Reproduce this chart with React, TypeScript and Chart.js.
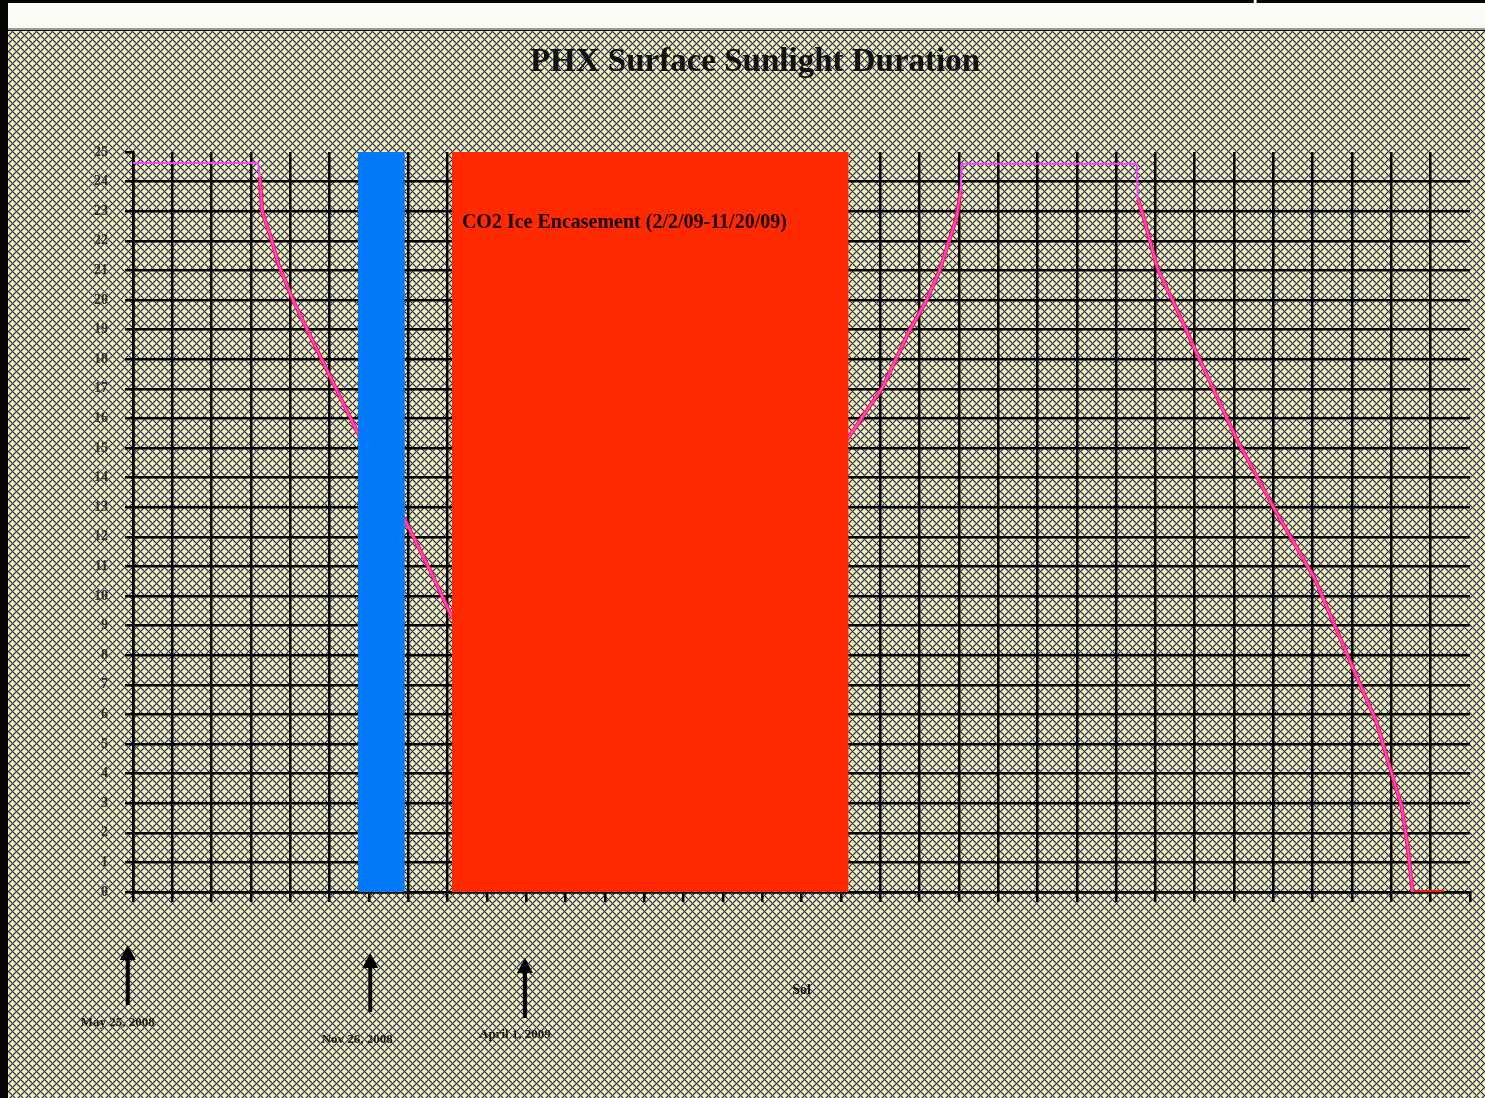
import { useEffect, useRef } from 'react';
import { Chart, registerables } from 'chart.js';

Chart.register(...registerables);

// ---- data ----
const chartTitle = 'PHX Surface Sunlight Duration';
const xAxisTitle = 'Sol';
const topCaption = 'The sun low on the polar horizon';

const solMin = 0;
const solMax = 1020;
const solStep = 30;
const hourMin = 0;
const hourMax = 25;
const hourStep = 1;

// Sunlight duration (hours) vs sol — magenta trace
const sunSol = [0, 95.3, 96.8, 98.4, 100.7, 106, 110.6, 122, 144.2, 171.6, 207.4, 226.5, 243.3,
  545, 572, 592.6, 605.5, 615.4, 628.4, 631.4, 632.2, 765.7, 766.6, 770.3, 781.7, 796.2, 811.5,
  842, 872.5, 901.4, 930.4, 948.7, 960.9, 967.8, 972.4, 976.2];
const sunHours = [24.63, 24.63, 24.16, 23.04, 22.7, 22.0, 21.25, 20.0, 17.97, 15.5, 12.57, 10.88, 9.29,
  15.3, 17.06, 18.99, 20.0, 21.0, 22.8, 23.7, 24.6, 24.6, 23.4, 22.9, 21.05, 19.7, 18.2,
  15.3, 12.8, 10.6, 7.6, 5.74, 3.9, 2.9, 1.55, 0];

// Red trace (declining / rising parts and polar night)
const redSol = [96.8, 98.4, 100.7, 106, 110.6, 122, 144.2, 171.6, 207.4, 226.5, 243.3,
  545, 572, 592.6, 605.5, 615.4, 628.4, 631.4, 700, 766.6, 770.3, 781.7, 796.2, 811.5,
  842, 872.5, 901.4, 930.4, 948.7, 960.9, 967.8, 972.4, 976.2, 1000.5];
const redHours: (number | null)[] = [24.16, 23.04, 22.7, 22.0, 21.25, 20.0, 17.97, 15.5, 12.57, 10.88, 9.29,
  15.3, 17.06, 18.99, 20.0, 21.0, 22.8, 23.7, null, 23.4, 22.9, 21.05, 19.7, 18.2,
  15.3, 12.8, 10.6, 7.6, 5.74, 3.9, 2.9, 1.55, 0, 0];

// shaded periods [start sol, end sol]
const contactLossBar = [171.6, 207.4];
const iceBar = [243.3, 546];
const barTop = 25;
const iceLabel = 'CO2 Ice Encasement (2/2/09-11/20/09)';

// date markers
const markerSols = [-4, 181, 299];
const markerLabels = ['May 25, 2008', 'Nov 26, 2008', 'April 1, 2009'];

// ---- layout of markers (canvas px) ----
const markerLayout = [
  { tip: 914, bottom: 974, labelY: 992, dx: -10 },
  { tip: 922, bottom: 981, labelY: 1009, dx: -13 },
  { tip: 927, bottom: 987, labelY: 1004, dx: -10 },
];

function makePattern(ctx: CanvasRenderingContext2D): CanvasPattern | string {
  const N = 8;
  const t = document.createElement('canvas');
  t.width = N;
  t.height = N;
  const c = t.getContext('2d');
  if (!c) return '#94948a';
  const img = c.createImageData(N, N);
  const centers = [[0, 0], [N, 0], [0, N], [N, N], [N / 2, N / 2]];
  for (let y = 0; y < N; y++) {
    for (let x = 0; x < N; x++) {
      let plus = false;
      for (const [cx, cy] of centers) {
        const dx = Math.abs(x - cx);
        const dy = Math.abs(y - cy);
        if ((dx === 0 && dy <= 2) || (dx <= 2 && dy === 0) || (dx === 1 && dy === 1)) plus = true;
      }
      let col: number[];
      if (plus) col = [246, 242, 168];
      else if ((x + y) % 2 === 0) col = [30, 38, 112];
      else col = [172, 172, 150];
      const i = (y * N + x) * 4;
      img.data[i] = col[0];
      img.data[i + 1] = col[1];
      img.data[i + 2] = col[2];
      img.data[i + 3] = 255;
    }
  }
  c.putImageData(img, 0, 0);
  return ctx.createPattern(t, 'repeat') || '#94948a';
}

export default function App() {
  const ref = useRef<HTMLCanvasElement>(null);

  useEffect(() => {
    document.body.style.margin = '0';
    const canvas = ref.current;
    if (!canvas) return;
    const ctx0 = canvas.getContext('2d')!;
    const pattern = makePattern(ctx0);

    const bgPlugin = {
      id: 'bgPattern',
      beforeDraw(chart: any) {
        const ctx = chart.ctx;
        ctx.save();
        ctx.fillStyle = pattern;
        ctx.fillRect(0, 0, chart.width, chart.height);
        ctx.restore();
      },
    };

    const notesPlugin = {
      id: 'notes',
      afterDraw(chart: any) {
        const ctx = chart.ctx as CanvasRenderingContext2D;
        const xs = chart.scales.x;
        const ys = chart.scales.y;
        const area = chart.chartArea;
        ctx.save();
        // title
        ctx.fillStyle = '#111';
        ctx.textAlign = 'center';
        ctx.textBaseline = 'middle';
        ctx.font = 'bold 33px "Liberation Serif", serif';
        ctx.fillText(chartTitle, 747, 31);
        // ice label
        ctx.textAlign = 'left';
        ctx.font = 'bold 20px "Liberation Serif", serif';
        ctx.fillStyle = '#1a0000';
        ctx.fillText(iceLabel, xs.getPixelForValue(iceBar[0]) + 10, ys.getPixelForValue(22.6));
        // x axis title
        ctx.fillStyle = '#111';
        ctx.textAlign = 'center';
        ctx.font = 'bold 14px "Liberation Serif", serif';
        ctx.fillText(xAxisTitle, (area.left + area.right) / 2, 959);
        // markers
        markerSols.forEach((s, i) => {
          const L = markerLayout[i];
          const px = xs.getPixelForValue(s);
          ctx.strokeStyle = '#000';
          ctx.lineWidth = 4;
          ctx.beginPath();
          ctx.moveTo(px, L.tip + 10);
          ctx.lineTo(px, L.bottom);
          ctx.stroke();
          ctx.fillStyle = '#000';
          ctx.beginPath();
          ctx.moveTo(px, L.tip);
          ctx.lineTo(px - 8, L.tip + 15);
          ctx.lineTo(px + 8, L.tip + 15);
          ctx.closePath();
          ctx.fill();
          ctx.fillStyle = '#1a1a1a';
          ctx.font = 'bold 13px "Liberation Serif", serif';
          ctx.fillText(markerLabels[i], px + L.dx, L.labelY);
        });
        ctx.restore();
      },
    };

    const chart = new Chart(canvas, {
      type: 'line',
      data: {
        datasets: [
          {
            label: 'Loss of contact',
            data: [{ x: contactLossBar[0], y: barTop }, { x: contactLossBar[1], y: barTop }],
            fill: 'origin',
            backgroundColor: '#047afa',
            borderWidth: 0,
            pointRadius: 0,
            order: 0,
          },
          {
            label: 'CO2 Ice Encasement',
            data: [{ x: iceBar[0], y: barTop }, { x: iceBar[1], y: barTop }],
            fill: 'origin',
            backgroundColor: '#ff2a00',
            borderWidth: 0,
            pointRadius: 0,
            order: 0,
          },
          {
            label: 'Sunlight duration',
            data: sunSol.map((x, i) => ({ x, y: sunHours[i] })),
            borderColor: '#ff40ff',
            borderWidth: 2,
            pointRadius: 0,
            fill: false,
            order: 1,
          },
          {
            label: 'Sunlight duration (red)',
            data: redSol.map((x, i) => ({ x, y: redHours[i] })) as any,
            borderColor: '#ff1a1a',
            borderWidth: 4,
            pointRadius: 0,
            fill: false,
            spanGaps: false,
            order: 2,
          },
        ],
      },
      options: {
        animation: false,
        responsive: true,
        maintainAspectRatio: false,
        layout: { padding: { left: 0, right: 15, top: 121, bottom: 0 } },
        plugins: {
          legend: { display: false },
          tooltip: { enabled: false },
          title: { display: false },
        },
        scales: {
          x: {
            type: 'linear',
            min: solMin,
            max: solMax,
            afterFit: (s: any) => { s.height = 206; },
            ticks: { stepSize: solStep, display: false },
            grid: {
              color: (c: any) => (c.tick && c.tick.value >= solMax ? 'rgba(0,0,0,0)' : '#000'),
              lineWidth: 2.5,
              tickLength: 10,
              tickColor: '#000',
            },
            border: { color: '#000', width: 2.5 },
          },
          y: {
            type: 'linear',
            min: hourMin,
            max: hourMax,
            afterFit: (s: any) => { s.width = 125; },
            ticks: {
              stepSize: hourStep,
              padding: 17,
              color: '#2e2e2e',
              font: { family: '"Liberation Serif", serif', size: 14, weight: 'bold' },
            },
            grid: {
              color: (c: any) => (c.tick && c.tick.value >= hourMax ? 'rgba(0,0,0,0)' : '#000'),
              lineWidth: 2.5,
              tickLength: 8,
              tickColor: '#000',
            },
            border: { color: '#000', width: 2.5 },
          },
        },
      } as any,
      plugins: [bgPlugin, notesPlugin],
    });

    return () => chart.destroy();
  }, []);

  return (
    <div style={{ position: 'absolute', left: 0, top: 0, width: 1485, height: 1098, background: '#070404', overflow: 'hidden' }}>
      <div style={{ position: 'absolute', left: 0, top: 0, width: 1485, height: 3, overflow: 'hidden' }}>
        <span style={{ position: 'absolute', left: 990, top: -27, color: '#fff', font: '30px "Liberation Sans", sans-serif', whiteSpace: 'nowrap' }}>
          {topCaption}
        </span>
      </div>
      <div style={{ position: 'absolute', left: 8, top: 3, width: 1477, height: 25, background: '#fdfdf8' }} />
      <div style={{ position: 'absolute', left: 8, top: 28, width: 1477, height: 2, background: '#9a9a9a' }} />
      <div style={{ position: 'absolute', left: 8, top: 31, width: 1477, height: 1067 }}>
        <canvas ref={ref} />
      </div>
    </div>
  );
}
